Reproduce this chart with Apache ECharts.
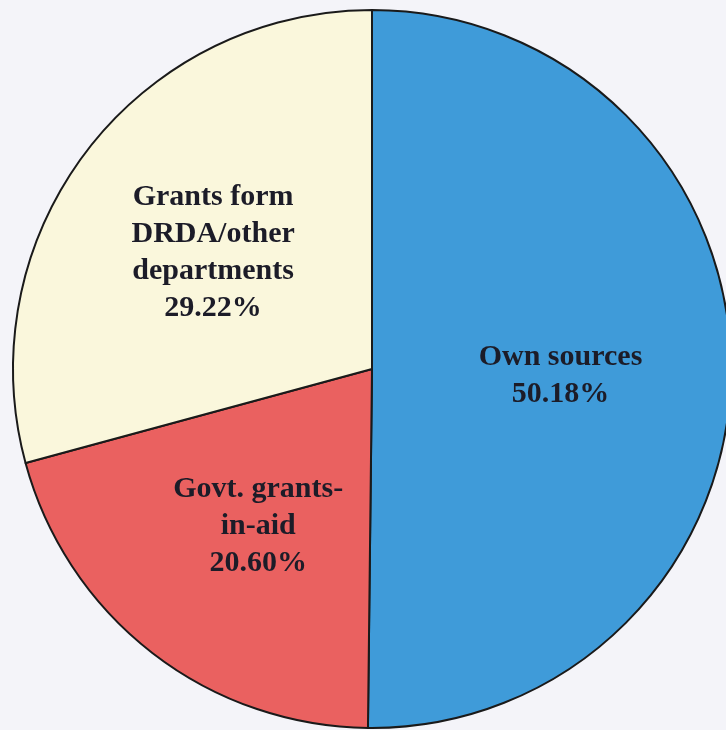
<!DOCTYPE html>
<html>
<head>
<meta charset="utf-8">
<script src="https://cdn.jsdelivr.net/npm/echarts@6/dist/echarts.min.js"></script>
<style>
  html, body { margin: 0; padding: 0; background: #f4f4f9; }
  #chart { width: 726px; height: 730px; }
</style>
</head>
<body>
<div id="chart"></div>
<script>
// Sources of panchayat income, share in per cent
const categories = ['Own sources', 'Govt. grants-\nin-aid', 'Grants form\nDRDA/other\ndepartments'];
const shares = [50.18, 20.60, 29.22];
const colors = ['#3f9bd9', '#ea6160', '#faf7dc'];

const chart = echarts.init(document.getElementById('chart'));

const slices = categories.map((name, i) => ({
  name: name,
  value: shares[i],
  itemStyle: { color: colors[i] }
}));

const center = [372, 369];
const radius = 359;

// small per-label nudges from the default inner position
const labelNudge = [[-9, 6], [7, 1], [-2, 4]];

chart.setOption({
  backgroundColor: '#f4f4f9',
  animation: false,
  series: [
    {
      // the filled pie with its black outlines
      type: 'pie',
      center: center,
      radius: radius,
      startAngle: 90,
      clockwise: true,
      silent: true,
      label: { show: false },
      labelLine: { show: false },
      itemStyle: { borderColor: '#1a1a1a', borderWidth: 2 },
      data: slices
    },
    {
      // transparent copy carrying the labels a little further out
      type: 'pie',
      center: center,
      radius: [30, radius],
      startAngle: 90,
      clockwise: true,
      silent: true,
      itemStyle: { color: 'transparent', borderWidth: 0 },
      labelLine: { show: false },
      labelLayout: p => ({ dx: labelNudge[p.dataIndex][0], dy: labelNudge[p.dataIndex][1] }),
      label: {
        show: true,
        position: 'inner',
        formatter: p => p.name + '\n' + p.value.toFixed(2) + '%',
        fontFamily: '"Liberation Serif", "Times New Roman", serif',
        fontWeight: 'bold',
        fontSize: 30,
        lineHeight: 37,
        color: '#1c1c28',
        align: 'center'
      },
      data: categories.map((name, i) => ({ name: name, value: shares[i] }))
    }
  ]
});
</script>
</body>
</html>
